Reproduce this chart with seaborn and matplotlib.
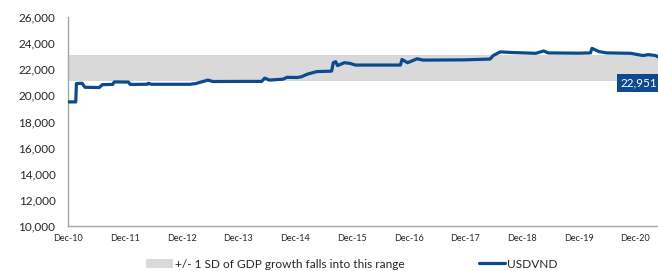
import pandas as pd
import matplotlib.pyplot as plt
import matplotlib.dates as mdates
from matplotlib.patches import Patch
from matplotlib.lines import Line2D
import seaborn as sns

# USDVND
dates = ['2010-12-01', '2011-01-20', '2011-01-24', '2011-03-01', '2011-03-20', '2011-06-20',
         '2011-07-10', '2011-09-15', '2011-09-25', '2011-12-25', '2012-01-05', '2012-04-25',
         '2012-05-01', '2012-05-20', '2013-01-20', '2013-03-01', '2013-05-20', '2013-06-20',
         '2014-01-01', '2014-05-01', '2014-05-20', '2014-06-20', '2014-09-15', '2014-10-10',
         '2014-12-15', '2015-01-10', '2015-02-20', '2015-04-20', '2015-07-10', '2015-07-25',
         '2015-08-05', '2015-08-20', '2015-09-01', '2015-10-15', '2015-11-20', '2015-12-25',
         '2016-10-10', '2016-10-20', '2016-11-25', '2017-01-25', '2017-03-05', '2017-12-01',
         '2018-05-10', '2018-05-30', '2018-07-15', '2018-10-01', '2019-03-01', '2019-04-20',
         '2019-05-20', '2019-12-01', '2020-02-15', '2020-02-25', '2020-04-10', '2020-06-01',
         '2020-11-01', '2020-12-25', '2021-01-20', '2021-02-20', '2021-04-10', '2021-04-25']
usdvnd = [19500, 19500, 20900, 20930, 20620, 20600,
          20820, 20840, 21030, 21020, 20840, 20850,
          20930, 20850, 20850, 20900, 21170, 21060,
          21070, 21070, 21320, 21170, 21240, 21380,
          21370, 21420, 21630, 21820, 21850, 21860,
          22500, 22580, 22280, 22500, 22450, 22320,
          22320, 22750, 22500, 22800, 22700, 22720,
          22780, 23050, 23330, 23280, 23220, 23400,
          23250, 23230, 23250, 23600, 23350, 23250,
          23220, 23100, 23050, 23120, 23050, 22951]

band_low = 21100
band_high = 23100
last_label = '22,951'
year_ticks = ['2010-12-01', '2011-12-01', '2012-12-01', '2013-12-01', '2014-12-01', '2015-12-01',
              '2016-12-01', '2017-12-01', '2018-12-01', '2019-12-01', '2020-12-01']

df = pd.DataFrame({'Date': pd.to_datetime(dates), 'USDVND': usdvnd})

sns.set_style('white')
plt.rcParams['font.family'] = ['Lato', 'DejaVu Sans']

line_color = '#0b4a8f'
fig = plt.figure(figsize=(6.58, 2.71), dpi=100)
ax = fig.add_axes([68 / 658, 1 - 226 / 271, 1 - 68 / 658, (226 - 17) / 271])

ax.axhspan(band_low, band_high, color='#d9d9d9', lw=0, zorder=0)
sns.lineplot(data=df, x='Date', y='USDVND', ax=ax, color=line_color, linewidth=2.3, zorder=3)

ax.set_xlim(pd.Timestamp('2010-12-01'), pd.Timestamp('2021-04-25'))
ax.set_ylim(10000, 26000)
ax.set_yticks(range(10000, 26001, 2000))
ax.yaxis.set_major_formatter(plt.FuncFormatter(lambda v, p: f'{v:,.0f}'))
ax.set_xticks(pd.to_datetime(year_ticks))
ax.xaxis.set_major_formatter(mdates.DateFormatter('Dec-%y'))
ax.set_xlabel('')
ax.set_ylabel('')

for s in ['top', 'right']:
    ax.spines[s].set_visible(False)
for s in ['left', 'bottom']:
    ax.spines[s].set_color('#a6a6a6')
    ax.spines[s].set_linewidth(1)
ax.tick_params(axis='y', length=3, color='#a6a6a6', labelsize=8.5, pad=6, labelcolor='#262626')
ax.tick_params(axis='x', length=3, color='#a6a6a6', labelsize=6.5, pad=3, labelcolor='#262626')

# end-of-line label box
ax.annotate(last_label, xy=(df['Date'].iloc[-1], df['USDVND'].iloc[-1]),
            xytext=(-1, -26), textcoords='offset pixels', ha='right', va='center',
            color='white', fontsize=8.5,
            bbox=dict(boxstyle='square,pad=0.3', fc=line_color, ec='none'), zorder=5,
            annotation_clip=False)

handles = [Patch(facecolor='#d9d9d9', edgecolor='none', label='+/- 1 SD of GDP growth falls into this range'),
           Line2D([], [], color=line_color, lw=2.3, label='USDVND')]
fig.legend(handles=handles, loc='center', bbox_to_anchor=(0.535, 1 - 264 / 271), ncol=2,
           frameon=False, fontsize=8.6, handlelength=2.2, handletextpad=0.2, columnspacing=6.2,
           borderaxespad=0)

fig.savefig('out.png', dpi=100)
